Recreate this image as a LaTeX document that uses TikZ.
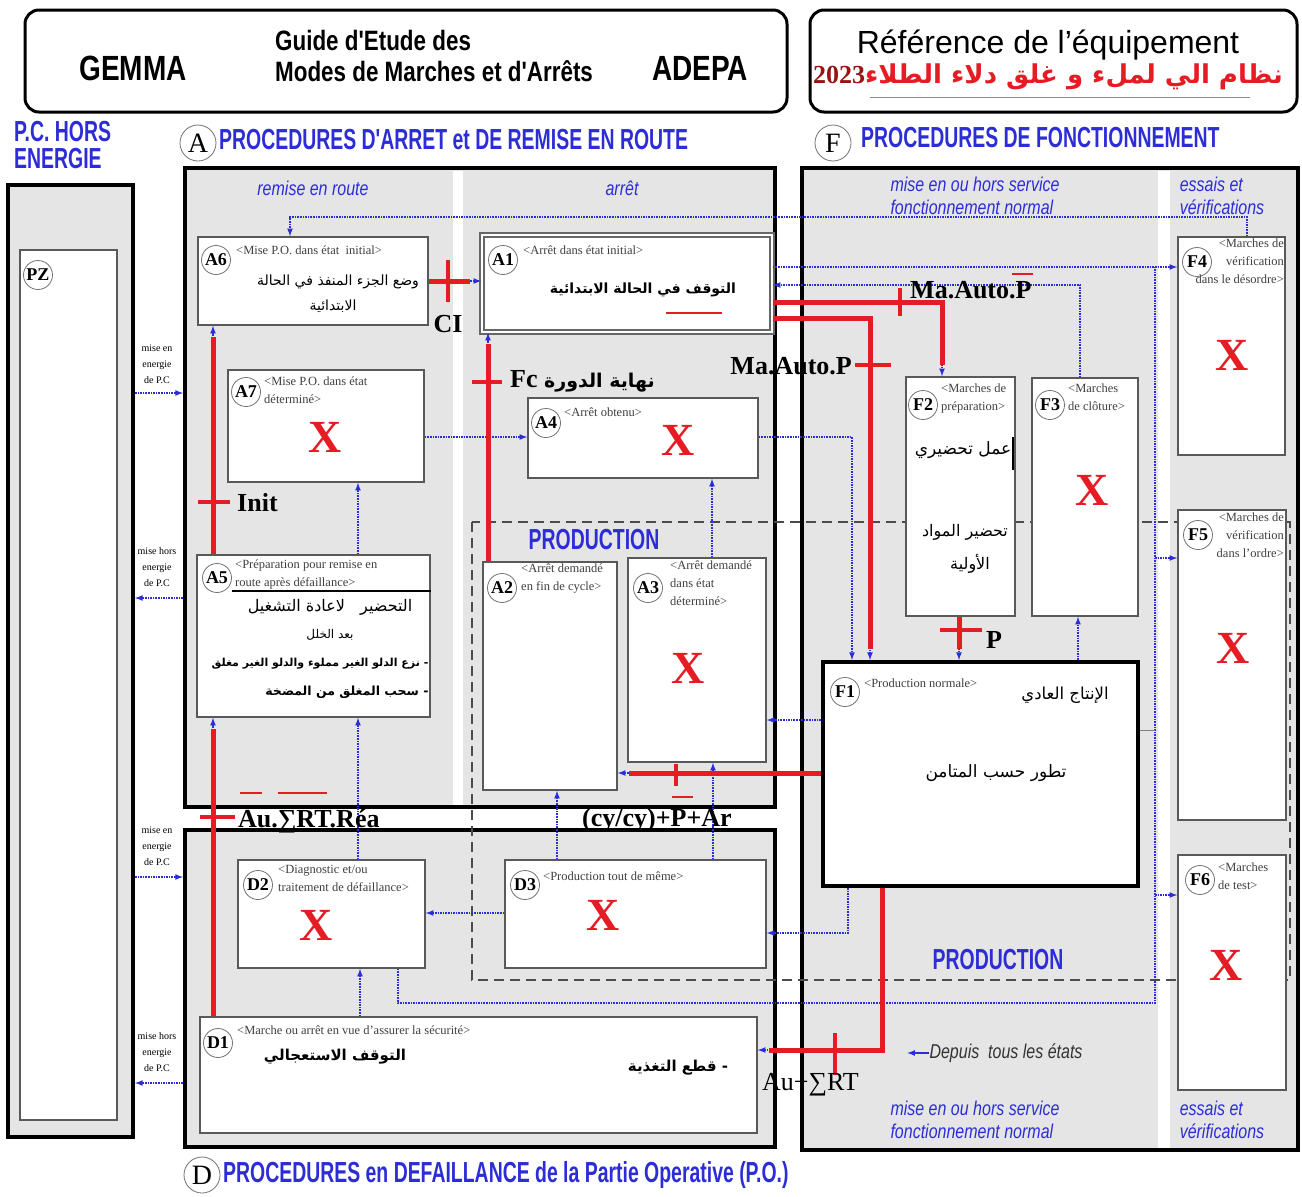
\documentclass[tikz,border=0pt]{standalone}
\usepackage{fontspec}
\setmainfont{Liberation Serif}
\setsansfont{Liberation Sans}
\newfontfamily\sansetroit[FakeStretch=0.8]{Liberation Sans}
\newfontfamily\sanstitre[FakeStretch=0.67]{Liberation Sans}
\newfontfamily\arabe[Script=Arabic]{DejaVu Sans}
\TeXXeTstate=1
\usepackage{tikz}
\usetikzlibrary{arrows, fit, positioning}
\definecolor{gemmablue}{RGB}{45,45,215}
\definecolor{gemmared}{RGB}{230,28,36}
\definecolor{rougefonce}{RGB}{150,20,20}
\tikzstyle{entete} = [draw=black, line width=3pt, rounded corners=14pt, inner sep=0pt]
\tikzstyle{zone} = [draw=black, line width=4pt, fill=gray!20, inner sep=0pt]
\tikzstyle{etat} = [draw=black!65, line width=1.6pt, fill=white, inner sep=0pt]
\tikzstyle{etatinit} = [etat, draw=black!60, double=white, double distance=2.5pt]
\tikzstyle{etatprod} = [etat, draw=black, line width=4pt]
\tikzstyle{prod} = [draw=black!70, line width=2pt, dash pattern=on 10pt off 6pt]
\tikzstyle{repere} = [circle, draw=black!55, line width=0.8pt, fill=white, inner sep=0pt, minimum size=29pt, font=\bfseries\fontsize{18}{18}\selectfont]
\tikzstyle{repgrand} = [repere, minimum size=36pt, font=\fontsize{28}{28}\selectfont]
\tikzstyle{titre} = [text=black!75, font=\fontsize{12.5}{18}\selectfont, inner sep=0pt, align=left]
\tikzstyle{croix} = [text=gemmared, font=\bfseries\fontsize{46}{46}\selectfont, inner sep=0pt]
\tikzstyle{arab} = [font=\arabe\fontsize{15}{18}\selectfont, inner sep=0pt]
\tikzstyle{cond} = [font=\bfseries\fontsize{26}{28}\selectfont, inner sep=0pt]
\tikzstyle{bleu} = [text=gemmablue, font=\sanstitre\bfseries\fontsize{29}{27}\selectfont, inner sep=0pt, align=left]
\tikzstyle{bleuit} = [text=gemmablue, font=\sansetroit\itshape\fontsize{20}{23}\selectfont, inner sep=0pt, align=left]
\tikzstyle{petit} = [font=\fontsize{10}{16}\selectfont, inner sep=0pt, align=center]
\tikzstyle{lien} = [gemmablue, densely dotted, line width=1.6pt, ->, >=latex]
\tikzstyle{garde} = [lien, postaction={draw=gemmared, solid, line width=5pt, shorten >=11pt, -}]
\tikzstyle{barre} = [gemmared, line width=4pt]
\tikzstyle{surligne} = [gemmared, line width=2.5pt]

\begin{document}
\begin{tikzpicture}[x=1pt, y=-1pt]
  \useasboundingbox[fill=white] (0,0) rectangle (1302,1197);

  % en-tetes
  \node[entete, fit={(25,10) (787,112)}] (hg) {};
  \node[entete, fit={(810,10) (1297,112)}] (hd) {};
  \node[font=\sansetroit\bfseries\fontsize{35}{36}\selectfont] (gemma) at (133,68) {GEMMA};
  \node[font=\sansetroit\bfseries\fontsize{28}{30}\selectfont, inner sep=0pt, anchor=west] (guide) at (275,40) {Guide d'Etude des};
  \node[font=\sansetroit\bfseries\fontsize{28}{30}\selectfont, inner sep=0pt, below=10pt of guide.south west, anchor=north west] (modes) {Modes de Marches et d'Arrêts};
  \node[font=\sansetroit\bfseries\fontsize{35}{36}\selectfont] (adepa) at (700,68) {ADEPA};
  \node[font=\sffamily\fontsize{32}{34}\selectfont, inner sep=0pt] (equip) at (1048,45) {Référence de l'équipement};
  \node[font=\arabe\bfseries\fontsize{26}{30}\selectfont, text=gemmared, inner sep=0pt] (sujet) at (1048,77) {\beginR نظام الي لملء و غلق دلاء الطلاء\beginL{\rmfamily\bfseries\color{rougefonce}2023}\endL\endR};
  \draw[black!45, line width=1pt] (870,97) -- (1250,97);

  % zones
  \node[zone, fit={(8,185) (133,1137)}] (pz) {};
  \node[zone, fit={(185,168) (775,807)}] (azone) {};
  \node[zone, fit={(185,830) (775,1147)}] (dzone) {};
  \node[zone, fit={(802,168) (1298,1150)}] (fzone) {};
  \fill[white] (453,171) rectangle (463,805);
  \fill[white] (1158,171) rectangle (1170,1148);
  \draw[prod] (472,522) rectangle (1290,980);

  % titres des zones
  \node[bleu, anchor=north west] (pchors) at (14,121) {P.C. HORS\\ENERGIE};
  \node[repgrand] (la) at (198,143) {A};
  \node[bleu, anchor=west] (ta) at (219,140) {PROCEDURES D'ARRET et DE REMISE EN ROUTE};
  \node[repgrand] (lf) at (833,143) {F};
  \node[bleu, anchor=west] (tf) at (861,138) {PROCEDURES DE FONCTIONNEMENT};
  \node[repgrand] (ld) at (202,1175) {D};
  \node[bleu, anchor=west] (td) at (223,1175) {PROCEDURES en DEFAILLANCE de la Partie Operative (P.O.)};
  \node[bleuit] at (313,188) {remise en route};
  \node[bleuit] at (622,188) {arrêt};
  \node[bleuit] at (975,196) {mise en ou hors service\\fonctionnement normal};
  \node[bleuit] at (1222,196) {essais et\\vérifications};
  \node[bleuit] at (975,1120) {mise en ou hors service\\fonctionnement normal};
  \node[bleuit] at (1222,1120) {essais et\\vérifications};
  \node[bleu] at (594,540) {PRODUCTION};
  \node[bleu] at (998,960) {PRODUCTION};

  % PZ
  \node[etat, fit={(20,250) (117,1120)}] (pzin) {};
  \node[repere] (tpz) at (38,275) {PZ};
  \node[petit] at (157,364) {mise en\\energie\\de P.C};
  \node[petit] at (157,567) {mise hors\\energie\\de P.C};
  \node[petit] at (157,846) {mise en\\energie\\de P.C};
  \node[petit] at (157,1052) {mise hors\\energie\\de P.C};

  % etats
  \node[etat, fit={(198,237) (428,325)}] (a6) {};
  \node[etatinit, fit={(482,235) (772,332)}] (a1) {};
  \node[etat, fit={(228,370) (424,482)}] (a7) {};
  \node[etat, fit={(528,398) (758,478)}] (a4) {};
  \node[etat, fit={(197,555) (430,717)}] (a5) {};
  \node[etat, fit={(483,562) (617,790)}] (a2) {};
  \node[etat, fit={(628,558) (766,762)}] (a3) {};
  \node[etat, fit={(238,860) (425,968)}] (d2) {};
  \node[etat, fit={(505,860) (766,968)}] (d3) {};
  \node[etat, fit={(200,1017) (757,1133)}] (d1) {};
  \node[etat, fit={(906,377) (1015,616)}] (f2) {};
  \node[etat, fit={(1032,378) (1138,616)}] (f3) {};
  \node[etat, fit={(1178,237) (1285,455)}] (f4) {};
  \node[etat, fit={(1178,510) (1286,820)}] (f5) {};
  \node[etat, fit={(1178,855) (1286,1090)}] (f6) {};
  \node[etatprod, fit={(823,662) (1138,886)}] (f1) {};

  \node[repere] (ta6) at (216,260) {A6};
  \node[repere] (ta1) at (503,260) {A1};
  \node[repere] (ta7) at (246,392) {A7};
  \node[repere] (ta4) at (546,423) {A4};
  \node[repere] (ta5) at (217,578) {A5};
  \node[repere] (ta2) at (502,588) {A2};
  \node[repere] (ta3) at (648,588) {A3};
  \node[repere] (td2) at (258,885) {D2};
  \node[repere] (td3) at (525,885) {D3};
  \node[repere] (td1) at (218,1043) {D1};
  \node[repere] (tf2) at (923,405) {F2};
  \node[repere] (tf3) at (1050,405) {F3};
  \node[repere] (tf4) at (1197,262) {F4};
  \node[repere] (tf5) at (1198,535) {F5};
  \node[repere] (tf6) at (1200,880) {F6};
  \node[repere] (tf1) at (845,692) {F1};

  \node[titre, anchor=west] at (236,250) {<Mise P.O. dans état\ \ initial>};
  \node[titre, anchor=west] at (523,250) {<Arrêt dans état initial>};
  \node[titre, anchor=north west] at (264,377) {<Mise P.O. dans état\\déterminé>};
  \node[titre, anchor=west] at (564,412) {<Arrêt obtenu>};
  \node[titre, anchor=north west] at (235,560) {<Préparation pour remise en\\route après défaillance>};
  \node[titre, anchor=north west] at (521,564) {<Arrêt demandé\\en fin de cycle>};
  \node[titre, anchor=north west] at (670,561) {<Arrêt demandé\\dans état\\déterminé>};
  \node[titre, anchor=north west] at (278,865) {<Diagnostic et/ou\\traitement de défaillance>};
  \node[titre, anchor=west] at (543,876) {<Production tout de même>};
  \node[titre, anchor=west] at (237,1030) {<Marche ou arrêt en vue d'assurer la sécurité>};
  \node[titre, anchor=north west] at (941,384) {<Marches de\\préparation>};
  \node[titre, anchor=north west] at (1068,384) {<Marches\\de clôture>};
  \node[titre, anchor=north east, align=right] at (1284,239) {<Marches de\\vérification\\dans le désordre>};
  \node[titre, anchor=north east, align=right] at (1284,513) {<Marches de\\vérification\\dans l'ordre>};
  \node[titre, anchor=north west] at (1218,863) {<Marches\\de test>};
  \node[titre, anchor=west] at (864,683) {<Production normale>};

  \node[croix] at (325,437) {X};
  \node[croix] at (678,440) {X};
  \node[croix] at (688,668) {X};
  \node[croix] at (316,925) {X};
  \node[croix] at (603,915) {X};
  \node[croix] at (1092,490) {X};
  \node[croix] at (1232,355) {X};
  \node[croix] at (1233,648) {X};
  \node[croix] at (1226,965) {X};

  % textes arabes
  \node[arab, font=\arabe\fontsize{14}{16}\selectfont] at (338,282) {\beginR وضع الجزء المنفذ في الحالة\endR};
  \node[arab, font=\arabe\fontsize{14}{16}\selectfont] at (333,306) {\beginR الابتدائية\endR};
  \node[arab, font=\arabe\bfseries\fontsize{14}{18}\selectfont] at (643,290) {\beginR التوقف في الحالة الابتدائية\endR};
  \draw[gemmared, line width=1.2pt] (666,313) -- (722,313);
  \draw[black, line width=1.5pt] (232,591) -- (a5.east |- 0,591);
  \node[arab, font=\arabe\fontsize{16}{18}\selectfont] at (330,607) {\beginR التحضير\ \ \ لاعادة التشغيل\endR};
  \node[arab, font=\arabe\fontsize{12}{14}\selectfont] at (330,635) {\beginR بعد الخلل\endR};
  \node[arab, font=\arabe\bfseries\fontsize{11}{14}\selectfont] at (320,664) {\beginR - نزع الدلو الغير مملوء والدلو الغير مغلق\endR};
  \node[arab, font=\arabe\bfseries\fontsize{12.5}{14}\selectfont] at (347,692) {\beginR - سحب المغلق من المضخة\endR};
  \node[arab, font=\arabe\fontsize{17}{18}\selectfont] at (963,450) {\beginR عمل تحضيري\endR};
  \draw[black, line width=2.5pt] (1013,437) -- (1013,470);
  \node[arab, font=\arabe\fontsize{16}{18}\selectfont] at (965,532) {\beginR تحضير المواد\endR};
  \node[arab, font=\arabe\fontsize{16}{18}\selectfont] at (970,564) {\beginR الأولية\endR};
  \node[arab, font=\arabe\fontsize{16.5}{18}\selectfont] at (1065,695) {\beginR الإنتاج العادي\endR};
  \node[arab, font=\arabe\fontsize{17}{18}\selectfont] at (996,773) {\beginR تطور حسب المتامن\endR};
  \node[arab, font=\arabe\bfseries\fontsize{15}{18}\selectfont] at (335,1057) {\beginR التوقف الاستعجالي\endR};
  \node[arab, font=\arabe\bfseries\fontsize{15}{18}\selectfont] at (678,1068) {\beginR - قطع التغذية\endR};

  % liaisons
  \draw[lien] (f4.north -| 1247,0) |- (290,217) -- (a6.north -| 290,0);
  \draw[lien] (a1.east |- 0,267) -- (f4.west |- 0,267);
  \coordinate (tronc) at (1155,267);
  \draw[lien, -] (d2.south -| 398,0) |- (tronc |- 0,1003) -- (tronc);
  \draw[lien] (tronc |- 0,558) -- (f5.west |- 0,558);
  \draw[lien] (tronc |- 0,895) -- (f6.west |- 0,895);
  \draw[lien] (f3.north -| 1080,0) |- (a1.east |- 0,285);
  \draw[lien] (a7.east |- 0,437) -- (a4.west |- 0,437);
  \draw[lien] (a4.east |- 0,437) -| (f1.north -| 852,0);
  \draw[lien] (a5.north -| 358,0) -- (a7.south -| 358,0);
  \draw[lien] (a3.north -| 712,0) -- (a4.south -| 712,0);
  \draw[lien] (f1.west |- 0,720) -- (a3.east |- 0,720);
  \draw[lien] (f1.north -| 1078,0) -- (f3.south -| 1078,0);
  \draw[black!50, line width=1pt] (f1.east |- 0,730) -- (tronc |- 0,730);
  \draw[lien] (d3.west |- 0,913) -- (d2.east |- 0,913);
  \draw[lien] (d2.north -| 358,0) -- (a5.south -| 358,0);
  \draw[lien] (d1.north -| 360,0) -- (d2.south -| 360,0);
  \draw[lien] (d3.north -| 557,0) -- (a2.south -| 557,0);
  \draw[lien] (d3.north -| 713,0) -- (a3.south -| 713,0);
  \draw[lien] (f1.south -| 848,0) |- (d3.east |- 0,933);
  \draw[lien] (pz.east |- 0,393) -- (azone.west |- 0,393);
  \draw[lien] (azone.west |- 0,598) -- (pz.east |- 0,598);
  \draw[lien] (pz.east |- 0,877) -- (dzone.west |- 0,877);
  \draw[lien] (dzone.west |- 0,1083) -- (pz.east |- 0,1083);

  % liaisons conditionnees
  \draw[garde] (a6.east |- 0,281) -- (a1.west |- 0,281);
  \draw[garde] (a5.north -| 213,0) -- (a6.south -| 213,0);
  \draw[garde] (d1.north -| 213,0) -- (a5.south -| 213,0);
  \draw[garde] (a2.north -| 488,0) -- (a1.south -| 488,0);
  \draw[garde] (a1.east |- 0,302) -| (f2.north -| 942,0);
  \draw[garde] (a1.east |- 0,318) -| (f1.north -| 870,0);
  \draw[garde] (f2.south -| 959,0) -- (f1.north -| 959,0);
  \draw[garde] (f1.west |- 0,773) -- (a2.east |- 0,773);
  \draw[garde] (f1.south -| 882,0) |- (d1.east |- 0,1050);
  \node[bleuit, text=black!80] (depuis) at (1006,1053) {Depuis\ \ tous les états};
  \draw[lien, solid] (depuis.west) -- ++(-22,0);

  % receptivites
  \draw[barre] (448,260) -- (448,302);
  \draw[barre] (198,502) -- (230,502);
  \draw[barre] (200,817) -- (235,817);
  \draw[barre] (472,382) -- (502,382);
  \draw[barre] (900,288) -- (900,316);
  \draw[barre] (855,365) -- (891,365);
  \draw[barre] (940,630) -- (982,630);
  \draw[barre] (676,764) -- (676,786);
  \draw[barre] (835,1033) -- (835,1075);
  \node[cond, anchor=base] (ci) at (448,332) {CI};
  \node[cond, anchor=base west] (init) at (237,511) {Init};
  \node[cond, anchor=base west] (fc) at (510,387) {Fc {\arabe\fontsize{19}{20}\selectfont\beginR نهاية الدورة\endR}};
  \node[cond, anchor=base west] (maauto) at (910,298) {Ma.Auto.P};
  \node[cond, anchor=base east] (maauto2) at (852,374) {Ma.Auto.P};
  \node[cond, anchor=base west] (pp) at (986,648) {P};
  \node[cond, anchor=base west] (aurt) at (238,827) {Au.∑RT.Réa};
  \node[cond, anchor=base west] (cycy) at (582,826) {(cy/cy)+P+Ar};
  \node[font=\fontsize{26}{28}\selectfont, inner sep=0pt, anchor=base west] (aurt2) at (762,1090) {Au+∑RT};
  \draw[surligne] (1012,274) -- (1033,274);
  \draw[surligne] (240,793) -- (262,793);
  \draw[surligne] (278,793) -- (327,793);
  \draw[surligne] (672,797) -- (693,797);
\end{tikzpicture}
\end{document}
